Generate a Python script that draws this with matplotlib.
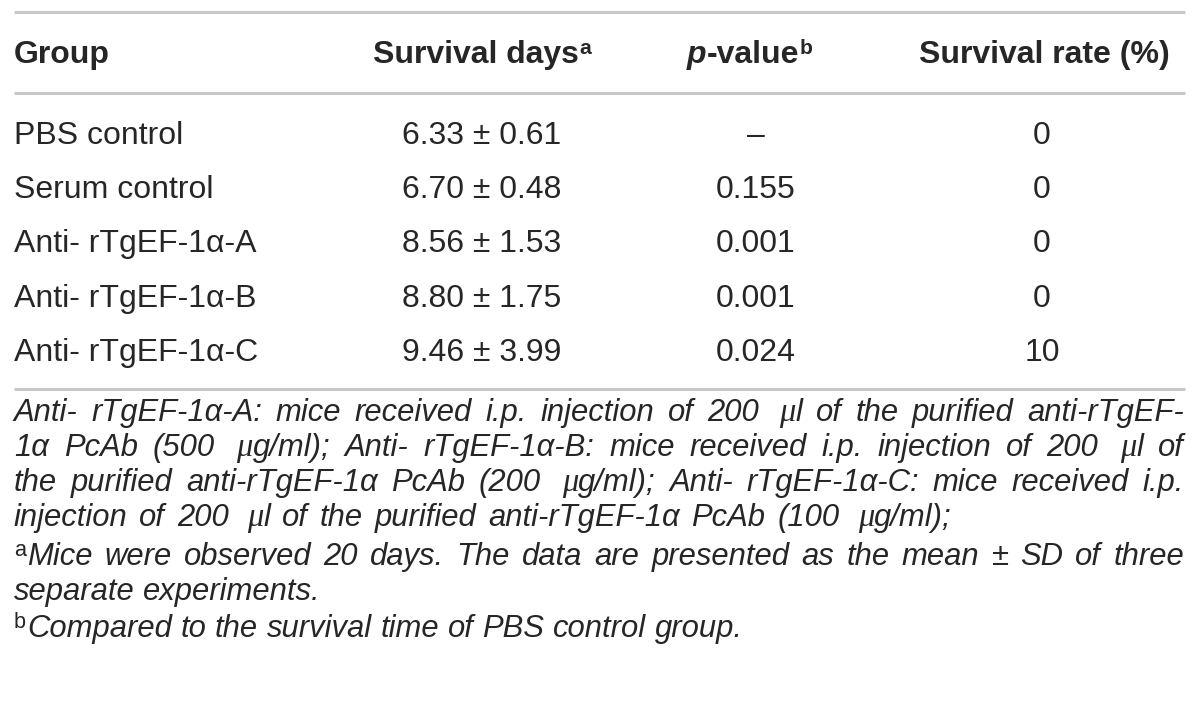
import matplotlib
matplotlib.use("Agg")
import matplotlib.pyplot as plt

groups = ["PBS control", "Serum control", "Anti- rTgEF-1\u03b1-A", "Anti- rTgEF-1\u03b1-B", "Anti- rTgEF-1\u03b1-C"]
survival_days = ["6.33 \u00b1 0.61", "6.70 \u00b1 0.48", "8.56 \u00b1 1.53", "8.80 \u00b1 1.75", "9.46 \u00b1 3.99"]
p_values = ["\u2013", "0.155", "0.001", "0.001", "0.024"]
survival_rates = ["0", "0", "0", "0", "10"]
headers = ["Group", "Survival days", "p-value", "Survival rate (%)"]
header_marks = ["", "a", "b", ""]
footnote_marks = ["", "", "", "", "a", "", "b"]
footnote_lines = [
    "Anti- rTgEF-1\u03b1-A: mice received i.p. injection of 200 \u03bcl of the purified anti-rTgEF-",
    "1\u03b1 PcAb (500 \u03bcg/ml); Anti- rTgEF-1\u03b1-B: mice received i.p. injection of 200 \u03bcl of",
    "the purified anti-rTgEF-1\u03b1 PcAb (200 \u03bcg/ml); Anti- rTgEF-1\u03b1-C: mice received i.p.",
    "injection of 200 \u03bcl of the purified anti-rTgEF-1\u03b1 PcAb (100 \u03bcg/ml);",
    "Mice were observed 20 days. The data are presented as the mean \u00b1 SD of three",
    "separate experiments.",
    "Compared to the survival time of PBS control group.",
]
footnote_right = [1184, 1184, 1184, 952, 1184, None, None]

W, H = 1200, 707
fig = plt.figure(figsize=(W / 100, H / 100), dpi=100)
ax = fig.add_axes([0, 0, 1, 1])
ax.set_xlim(0, W)
ax.set_ylim(H, 0)
ax.axis("off")
renderer = fig.canvas.get_renderer()

FONT = "Liberation Sans"
SERIF = "Liberation Serif"
TC = "#262626"
RULE = "#c8c8c8"
FS = 23
FH = 23
FN = 22.3


def wid(t):
    return t.get_window_extent(renderer=renderer).width


def txt(x, y, s, **kw):
    base = dict(family=FONT, color=TC, va="baseline")
    base.update(kw)
    return ax.text(x, y, s, **base)


L, R = 14, 1185
for y in (12, 93, 389):
    ax.plot([L, R], [y, y], color=RULE, lw=2.2, solid_capstyle="butt")

# header row
hb = 63
txt(L, hb, headers[0], fontsize=FH, fontweight="bold")
t1 = txt(373, hb, headers[1], fontsize=FH, fontweight="bold")
txt(373 + wid(t1) + 1, hb - 9, header_marks[1], fontsize=FH * 0.66, fontweight="bold")
tp = txt(687, hb, headers[2][0], fontsize=FH, fontweight="bold", style="italic")
tv = txt(687 + wid(tp), hb, headers[2][1:], fontsize=FH, fontweight="bold")
txt(687 + wid(tp) + wid(tv) + 1, hb - 9, header_marks[2], fontsize=FH * 0.66, fontweight="bold")
txt(1170, hb, headers[3], fontsize=FH, fontweight="bold", ha="right")

# body rows
row_b0, row_db = 144, 54.2
for i in range(len(groups)):
    yb = row_b0 + i * row_db
    txt(L, yb, groups[i], fontsize=FS)
    txt(482, yb, survival_days[i], fontsize=FS, ha="center")
    txt(756, yb, p_values[i], fontsize=FS, ha="center")
    txt(1042, yb, survival_rates[i], fontsize=FS, ha="center")

# measure a natural word space once, then discard the probe texts
p2 = txt(100, 300, "a a", fontsize=FN, style="italic")
p1 = txt(100, 300, "a", fontsize=FN, style="italic")
natural_space = wid(p2) - 2 * wid(p1)
p2.remove()
p1.remove()

# footnotes
foot_base = [421, 456, 491, 526, 565, 600, 637]
MU_GAP = 7
for line, mark, yb, right in zip(footnote_lines, footnote_marks, foot_base, footnote_right):
    x = L
    if mark:
        tm = txt(x, yb - 9, mark, fontsize=FN * 0.7)
        x += wid(tm) + 1
    pieces = []
    for w in line.split(" "):
        if w.startswith("\u03bc"):
            a = txt(x, yb, "\u03bc", fontsize=FN * 1.05, family=SERIF, style="italic")
            b = txt(x, yb, w[1:], fontsize=FN, style="italic")
            segs = [a, b]
            lead = MU_GAP
        else:
            segs = [txt(x, yb, w, fontsize=FN, style="italic")]
            lead = 0
        pieces.append((segs, [wid(s) for s in segs], lead))
    total = sum(sum(ws) + ld for _, ws, ld in pieces)
    n_gaps = len(pieces) - 1
    gap = natural_space
    if right is not None and n_gaps > 0:
        gap = max(natural_space * 0.8, (right - x - total) / n_gaps)
    for k, (segs, ws, ld) in enumerate(pieces):
        if k > 0:
            x += gap + ld
        for s, w in zip(segs, ws):
            s.set_x(x)
            x += w

fig.savefig("out.png", dpi=100)
